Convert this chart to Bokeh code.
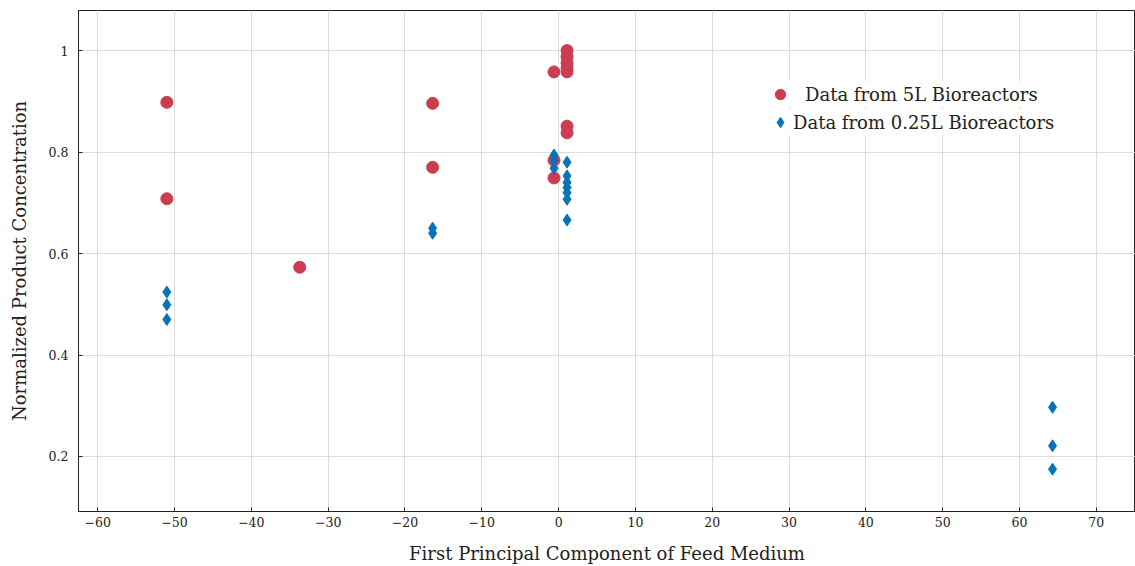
from bokeh.plotting import figure
from bokeh.models import Legend, LegendItem, FixedTicker, Range1d
from bokeh.embed import file_html
from bokeh.resources import INLINE

# 5L bioreactors
x_5l = [-51.0, -51.0, -33.7, -16.4, -16.4, -0.6, -0.6, -0.6,
        1.1, 1.1, 1.1, 1.1, 1.1, 1.1, 1.1]
y_5l = [0.898, 0.708, 0.573, 0.896, 0.770, 0.958, 0.784, 0.749,
        1.000, 0.988, 0.976, 0.966, 0.958, 0.851, 0.838]

# 0.25L bioreactors
x_025 = [-51.0, -51.0, -51.0, -16.4, -16.4, -0.6, -0.6, -0.6,
         1.1, 1.1, 1.1, 1.1, 1.1, 1.1, 1.1, 64.3, 64.3, 64.3]
y_025 = [0.524, 0.499, 0.470, 0.650, 0.640, 0.794, 0.784, 0.768,
         0.780, 0.753, 0.740, 0.730, 0.720, 0.707, 0.666, 0.297, 0.221, 0.175]

x_ticks = [-60, -50, -40, -30, -20, -10, 0, 10, 20, 30, 40, 50, 60, 70]
y_ticks = [0.2, 0.4, 0.6, 0.8, 1.0]

RED = "#CB3D51"
BLUE = "#0A72B8"
FONT = "DejaVu Serif"
TXT = "#222222"

p = figure(width=1135, height=566, output_backend="svg", toolbar_location=None,
           x_range=Range1d(-62.5, 75.1), y_range=Range1d(0.0916, 1.079),
           min_border_left=78, min_border_right=0, min_border_top=10, min_border_bottom=55)

r1 = p.scatter(x_5l, y_5l, marker="circle", size=12, fill_color=RED, line_color=RED)
r2 = p.scatter(x_025, y_025, marker="diamond", size=12, fill_color=BLUE, line_color=BLUE)

p.xaxis.ticker = FixedTicker(ticks=x_ticks)
p.yaxis.ticker = FixedTicker(ticks=y_ticks)
p.xaxis.major_label_overrides = {t: (("\u2212" + str(-t)) if t < 0 else str(t)) for t in x_ticks}
p.yaxis.major_label_overrides = {0.2: "0.2", 0.4: "0.4", 0.6: "0.6", 0.8: "0.8", 1.0: "1"}

p.xaxis.axis_label = "First Principal Component of Feed Medium"
p.yaxis.axis_label = "Normalized Product Concentration"
for ax in (p.xaxis, p.yaxis):
    ax.axis_label_text_font = FONT
    ax.axis_label_text_font_style = "normal"
    ax.axis_label_text_font_size = "18px"
    ax.axis_label_text_color = TXT
    ax.major_label_text_font = FONT
    ax.major_label_text_font_size = "12.5px"
    ax.major_label_text_color = TXT
    ax.minor_tick_line_color = None
    ax.major_tick_in = 4
    ax.major_tick_out = 0
    ax.axis_line_color = "#222222"
    ax.major_tick_line_color = "#222222"
p.xaxis.major_label_standoff = 5
p.yaxis.major_label_standoff = 10
p.xaxis.axis_label_standoff = 13
p.yaxis.axis_label_standoff = 16

p.xgrid.grid_line_color = "#dcdcdc"
p.ygrid.grid_line_color = "#dcdcdc"
p.outline_line_color = "#222222"
p.outline_line_alpha = 1.0


def make_legend(item, loc, standoff):
    lg = Legend(items=[item], location=loc)
    lg.label_text_font = FONT
    lg.label_text_font_size = "18px"
    lg.label_text_color = TXT
    lg.border_line_color = None
    lg.background_fill_alpha = 1.0
    lg.glyph_width = 26
    lg.glyph_height = 26
    lg.label_height = 20
    lg.label_standoff = standoff
    lg.padding = 2
    lg.margin = 0
    lg.spacing = 0
    return lg


leg_a = make_legend(LegendItem(label="Data from 5L Bioreactors", renderers=[r1]), (689, 404), 12)
leg_b = make_legend(LegendItem(label="Data from 0.25L Bioreactors", renderers=[r2]), (689, 376), 0)
p.add_layout(leg_a, "center")
p.add_layout(leg_b, "center")

open("out.html", "w").write(file_html(p, INLINE))
